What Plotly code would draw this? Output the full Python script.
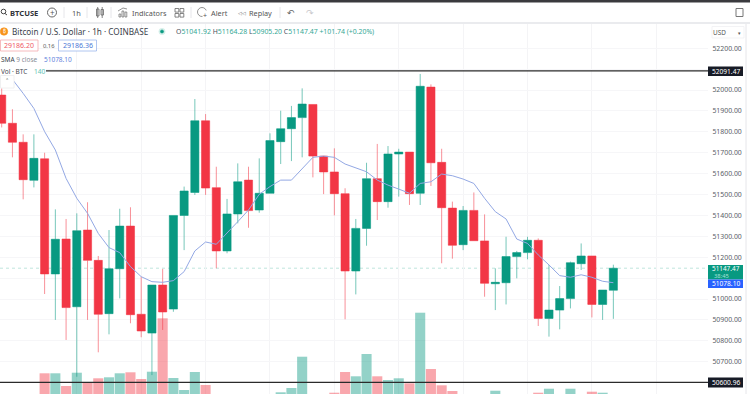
import plotly.graph_objects as go

W, H = 750, 394

# ---- data ----
candle_idx = list(range(58))
open_ = [51976,51841,51750,51568,51671,51120,51287,50963,51330,51185,50930,51145,51349,50927,50837,51067,50952,51400,51510,51853,51533,51230,51407,51569,51426,51506,51753,51815,51868,51931,51684,51608,51504,51134,51338,51576,51466,51694,51703,51506,52014,51654,51435,51260,51424,51278,51073,51078,51203,51222,51281,50907,50947,51002,51169,51206,50974,51041.92]
high  = [52008,51908,51788,51788,51700,51429,51383,51410,51463,51206,51330,51432,51439,51107,51067,51144,51400,51538,51957,51885,51633,51479,51649,51633,51673,51793,51901,51924,52008,51931,51684,51721,51530,51383,51652,51742,51732,51719,51703,52077,52027,51719,51466,51445,51510,51405,51147,51298,51230,51298,51290,51163,51062,51179,51266,51206,51043,51164.28]
low   = [51821,51678,51477,51534,51024,50900,50804,50628,50900,50745,50831,51003,50884,50817,50636,50852,50939,51234,51498,51498,51147,51219,51362,51341,51413,51506,51646,51660,51678,51582,51502,51400,50903,51022,51255,51378,51437,51490,51450,51450,51541,51171,51193,51234,51279,51011,50947,50974,51099,51190,50871,50820,50855,50955,51139,50912,50900,50905.20]
close = [51841,51750,51571,51673,51120,51286,50959,51327,51185,50927,51145,51349,50925,50847,51067,50938,51400,51517,51853,51531,51230,51407,51561,51423,51506,51758,51815,51868,51933,51684,51608,51504,51134,51338,51576,51466,51694,51703,51504,52018,51652,51437,51257,51424,51279,51075,51080,51203,51222,51281,50907,50947,51002,51174,51206,50974,51043,51147.47]
sma9  = [52077,52051,51984,51912,51801,51713,51577,51482,51410,51314,51246,51222,51155,51107,51083,51080,51088,51131,51230,51273,51262,51314,51370,51426,51501,51538,51569,51569,51625,51678,51684,51678,51646,51628,51609,51569,51545,51526,51506,51553,51561,51598,51590,51574,51553,51482,51418,51383,51287,51266,51211,51163,51112,51104,51116,51104,51085,51078.10]
volume = [100,100,100,100,2270,2270,1000,2330,1330,1770,1870,2270,2370,1700,2430,7770,1800,600,2400,1100,100,100,100,100,100,100,370,800,3930,100,100,330,2400,1970,4200,1970,1600,1770,1270,8330,2700,1070,500,100,100,100,530,100,100,100,330,730,100,730,100,430,330,140]
price_ticks = [50600,50700,50800,50900,51000,51100,51200,51300,51400,51500,51600,51700,51800,51900,52000,52100,52200]
price_labels = ["","50700.00","50800.00","50900.00","51000.00","","51200.00","51300.00","51400.00","51500.00","51600.00","51700.00","51800.00","51900.00","52000.00","","52200.00"]
time_grid = [7,13,19,25,31,37,43,49,55,61]
last_price = 51147.47
last_sma = 51078.10
level_hi = 52091.47
level_lo = 50600.96

RED = "#f23645"
GREEN = "#089981"
FONT = "Noto Sans"

def px(x): return x / W
def py(y): return 1 - y / H

shapes, notes = [], []

def rect(x0, y0, x1, y1, fill="rgba(0,0,0,0)", line="rgba(0,0,0,0)", lw=1):
    shapes.append(dict(type="rect", xref="paper", yref="paper", x0=px(x0), x1=px(x1), y0=py(y0), y1=py(y1),
                       fillcolor=fill, line=dict(color=line, width=lw), layer="above"))

def seg(x0, y0, x1, y1, color="#555", lw=1):
    shapes.append(dict(type="line", xref="paper", yref="paper", x0=px(x0), x1=px(x1), y0=py(y0), y1=py(y1),
                       line=dict(color=color, width=lw), layer="above"))

def circ(x, y, r, fill="rgba(0,0,0,0)", line="#555", lw=1):
    shapes.append(dict(type="circle", xref="paper", yref="paper", x0=px(x - r), x1=px(x + r), y0=py(y - r), y1=py(y + r),
                       fillcolor=fill, line=dict(color=line, width=lw), layer="above"))

def text(x, y, s, size=8, color="#3a3f4b", anchor="left", bg=None):
    notes.append(dict(xref="paper", yref="paper", x=px(x), y=py(y), text=s, showarrow=False, xanchor=anchor, yanchor="middle",
                      font=dict(family=FONT, size=size, color=color), bgcolor=bg, borderpad=0, align=anchor))

fig = go.Figure()

fig.add_trace(go.Bar(
    x=candle_idx, y=volume, xaxis="x", yaxis="y",
    marker=dict(color=["rgba(8,153,129,0.44)" if c >= o else "rgba(242,54,69,0.44)" for o, c in zip(open_, close)], line_width=0),
    hoverinfo="skip", showlegend=False))

fig.add_trace(go.Candlestick(
    x=candle_idx, open=open_, high=high, low=low, close=close, xaxis="x", yaxis="y2",
    increasing=dict(line=dict(color="rgba(8,153,129,0.55)", width=1), fillcolor=GREEN),
    decreasing=dict(line=dict(color="rgba(242,54,69,0.55)", width=1), fillcolor=RED),
    whiskerwidth=0, showlegend=False))

fig.add_trace(go.Scatter(
    x=candle_idx, y=sma9, xaxis="x", yaxis="y2", mode="lines",
    line=dict(color="#93a8e4", width=1), hoverinfo="skip", showlegend=False))

# price lines
for lvl in (level_hi, level_lo):
    shapes.append(dict(type="line", xref="paper", yref="y2", x0=0, x1=px(708), y0=lvl, y1=lvl,
                       line=dict(color="#2b2b2b", width=1.2), layer="above"))
shapes.append(dict(type="line", xref="paper", yref="y2", x0=0, x1=px(708), y0=last_price, y1=last_price,
                   line=dict(color="#bfe5dd", width=1, dash="dot"), layer="below"))

# page chrome
rect(0, 0, W, 2.5, fill="#3a3a3e")
rect(0, 3, W, 23, fill="#ffffff")
seg(0, 23, W, 23, color="#e3e4e8", lw=1.5)
seg(746, 24, 746, H, color="#e6e6ea", lw=1)

# toolbar
circ(3.5, 11.5, 2.3, line="#444")
seg(5, 13.5, 7, 15, color="#444")
text(8.5, 12.5, "<b>BTCUSE</b>", size=7.6, color="#2e3138")
circ(52, 12.5, 4.5, line="#666")
text(52, 12.5, "+", size=8, color="#555", anchor="center")
seg(64, 7, 64, 18, color="#e6e6ea")
text(71, 12.5, "1h", size=7.4, color="#555")
seg(87, 7, 87, 18, color="#e6e6ea")
rect(96.5, 9, 99, 16, line="#666", lw=0.8)
rect(101, 9.5, 103.5, 15, line="#666", lw=0.8)
seg(97.7, 7, 97.7, 18, color="#666", lw=0.8)
seg(102.2, 7, 102.2, 18, color="#666", lw=0.8)
seg(111, 7, 111, 18, color="#e6e6ea")
for xb, yb in ((119, 14), (122, 11), (125, 12)):
    rect(xb, yb, xb + 1.8, 17, line="#666", lw=0.7)
seg(118, 11, 123, 8, color="#666", lw=0.7)
seg(123, 8, 127, 9, color="#666", lw=0.7)
text(130.5, 12.5, "Indicators", size=7.3, color="#555")
for xb, yb in ((175, 8.5), (180, 8.5), (175, 13.5), (180, 13.5)):
    rect(xb, yb, xb + 3.8, yb + 3.6, line="#666", lw=0.8)
seg(191, 7, 191, 18, color="#e6e6ea")
circ(202, 12, 4.5, line="#777", lw=0.8)
text(205, 15, "+", size=7, color="#555", anchor="center", bg="#ffffff")
text(210, 12.5, "Alert", size=7.3, color="#555")
text(241.5, 12.5, "◁◁", size=5, color="#666", anchor="center")
text(248, 12.5, "Replay", size=7.3, color="#555")
seg(280, 7, 280, 18, color="#e6e6ea")
text(291, 12.5, "↶", size=9, color="#666", anchor="center")
text(310, 12.5, "↷", size=9, color="#c8c8cc", anchor="center")
rect(736, 8.5, 743, 16.5, line="#777", lw=1)

# legend rows
circ(4, 31.5, 3.8, fill="#f7931a", line="#f7931a", lw=0.5)
text(4, 31.5, "₿", size=5, color="#ffffff", anchor="center")
text(11, 31.5, "Bitcoin / U.S. Dollar · 1h · COINBASE", size=8.2, color="#3a3f4b")
circ(162, 31.5, 3.2, fill="#d5efe9", line="#d5efe9", lw=0.5)
circ(162, 31.5, 1.6, fill=GREEN, line=GREEN, lw=0.5)
ohlc_vals = [("O", "51041.92"), ("H", "51164.28"), ("L", "50905.20"), ("C", "51147.47")]
ohlc = " ".join(f'<span style="color:#4a4f5c">{a}</span>{b}' for a, b in ohlc_vals) + " +101.74 (+0.20%)"
text(175, 31.8, ohlc, size=6.9, color="#35a896")

rect(0.5, 40, 38, 51, fill="#ffffff", line="#f4a9ad", lw=0.8)
text(19.2, 45.7, "29186.20", size=7, color="#ef5a66", anchor="center")
text(42, 45.7, "0.16", size=5.8, color="#555")
rect(58.5, 40, 96.5, 51, fill="#ffffff", line="#9db8ec", lw=0.8)
text(77.5, 45.7, "29186.36", size=7, color="#4a78d6", anchor="center")

text(0, 59.5, '<span style="color:#3a3f4b">SMA</span> <span style="color:#8a8e97">9 close</span>', size=6.5, color="#8a8e97")
text(43, 59.5, "51078.10", size=6.5, color="#5f83dc")
rect(0, 67, 46, 75, fill="#ffffff")
text(0, 71, 'Vol · BTC', size=6.5, color="#444850")
text(33, 71, "140", size=6.5, color="#62c2b2")
rect(0.5, 75.5, 14, 88, fill="#ffffff", line="#ececee", lw=0.8)
text(7, 81.5, "˄", size=8, color="#555", anchor="center")

# price axis markers
def tag(y0, y1, fill, s, color="#ffffff"):
    rect(708, y0, 743, y1, fill=fill)
    text(725.5, (y0 + y1) / 2 + 0.2, s, size=6.6, color=color, anchor="center")

tag(66.5, 76, "#171b26", f"{level_hi:.2f}")
tag(377.5, 387.5, "#171b26", f"{level_lo:.2f}")
rect(708, 265, 743, 279.5, fill=GREEN)
text(725.5, 268.3, f"{last_price:.2f}", size=6.4, color="#ffffff", anchor="center")
text(713, 276.4, "38:45", size=5.8, color="#a7e0d5")
tag(279.5, 288, "#2962ff", f"{last_sma:.2f}")
rect(712, 26.5, 744, 38, fill="#ffffff", line="#f0f0f2", lw=0.8)
text(712, 32.5, "USD", size=6.4, color="#555")
text(739.5, 32.5, "▾", size=5, color="#555", anchor="center")

# axes: one pixel step = 100 volume units, 0.209 px = 1 price unit
x_left = -0.158
x_right = 65.82
price_bottom = 50545.5
price_top = 52316
fig.update_layout(
    width=W, height=H, margin=dict(l=0, r=0, t=0, b=0), autosize=False,
    paper_bgcolor="#ffffff", plot_bgcolor="#ffffff", showlegend=False,
    boxgap=0.24, boxgroupgap=0, bargap=0.06, shapes=shapes, annotations=notes,
    font=dict(family=FONT),
    xaxis=dict(domain=[0, px(708)], range=[x_left, x_right], rangeslider=dict(visible=False),
               tickmode="array", tickvals=time_grid, showticklabels=False, ticks="",
               showgrid=True, gridcolor="#f4f4f6", gridwidth=1, zeroline=False, showline=False),
    yaxis=dict(domain=[0, py(24)], range=[200, 37200], visible=False, showgrid=False),
    yaxis2=dict(domain=[0, py(24)], range=[price_bottom, price_top], overlaying="y", side="right", anchor="x",
                tickmode="array", tickvals=price_ticks, ticktext=price_labels, showgrid=True, gridcolor="#f6f6f8", gridwidth=1,
                ticks="outside", ticklen=2, tickcolor="#ffffff", zeroline=False, showline=False,
                tickfont=dict(family=FONT, size=6.9, color="#5a5e68")),
)

fig.write_html("out.html", config={"displayModeBar": False},
               post_script="document.body.style.margin='0';document.body.style.overflow='hidden';")
